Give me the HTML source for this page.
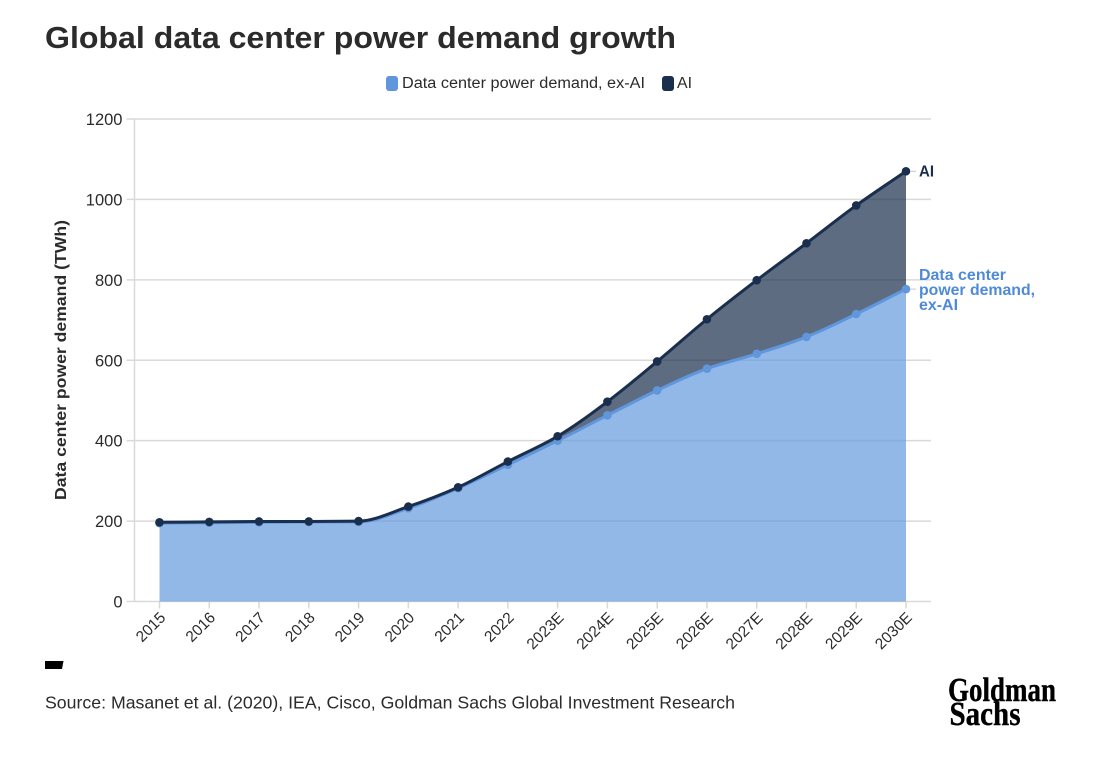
<!DOCTYPE html>
<html lang="en">
<head>
<meta charset="utf-8">
<title>Global data center power demand growth</title>
<style>
html,body{margin:0;padding:0;background:#fff;width:1100px;height:758px;overflow:hidden}
svg{display:block;font-family:"Liberation Sans",sans-serif}
</style>
</head>
<body>
<svg id="chart" xmlns="http://www.w3.org/2000/svg" width="1100" height="758" viewBox="0 0 1100 758">
  <rect width="1100" height="758" fill="#fff"/>
  <text x="45" y="48" font-size="31" font-weight="700" fill="#2b2b2b" textLength="631" lengthAdjust="spacingAndGlyphs">Global data center power demand growth</text>

  <g>
    <g>
      <rect x="386" y="76" width="12" height="15" rx="3" fill="#5f96dc"/>
      <text x="402" y="88" font-size="15.500" fill="#2b2b2b" textLength="243" lengthAdjust="spacingAndGlyphs">Data center power demand, ex-AI</text>
    </g>
    <g>
      <rect x="662" y="76" width="12" height="15" rx="3" fill="#1a2e4d"/>
      <text x="677" y="88" font-size="15.500" fill="#2b2b2b" textLength="15" lengthAdjust="spacingAndGlyphs">AI</text>
    </g>
  </g>

  <g id="grid"></g>
  <g id="yaxis"></g>
  <g id="xaxis"></g>
  <g id="series"></g>

  <text transform="translate(66,360) rotate(-90)" text-anchor="middle" font-size="15.500" font-weight="700" fill="#2b2b2b" textLength="280" lengthAdjust="spacingAndGlyphs">Data center power demand (TWh)</text>

  <g>
    <text x="919" y="176.500" font-size="15.500" font-weight="700" fill="#1a2e4d" textLength="15" lengthAdjust="spacingAndGlyphs">AI</text>
    <g font-size="15.500" font-weight="700" fill="#4f8ad9">
      <text x="919" y="280" textLength="87" lengthAdjust="spacingAndGlyphs">Data center</text>
      <text x="919" y="295" textLength="116" lengthAdjust="spacingAndGlyphs">power demand,</text>
      <text x="919" y="310" textLength="39" lengthAdjust="spacingAndGlyphs">ex-AI</text>
    </g>
  </g>

  <path d="M45 661H63.500L62 669H45Z" fill="#000"/>
  <text x="45" y="708.500" font-size="17.500" fill="#2b2b2b" textLength="690" lengthAdjust="spacingAndGlyphs">Source: Masanet et al. (2020), IEA, Cisco, Goldman Sachs Global Investment Research</text>

  <g style="font-family:'Liberation Serif',serif" font-weight="700" fill="#000" stroke="#000" stroke-width="0.4">
    <text x="948" y="701" font-size="34" textLength="108" lengthAdjust="spacingAndGlyphs">Goldman</text>
    <text x="949.500" y="725" font-size="34" textLength="71" lengthAdjust="spacingAndGlyphs">Sachs</text>
  </g>
</svg>
<script>
const categories = ["2015","2016","2017","2018","2019","2020","2021","2022","2023E","2024E","2025E","2026E","2027E","2028E","2029E","2030E"];
const exAiValues = [195,196,197,198,198,232,282,340,400,463,525,579,616,658,715,777];
const aiValues = [2,2,2,1,2,4,2,8,11,34,72,123,183,233,270,293];
const yTicks = [0,200,400,600,800,1000,1200];

const NS = 'http://www.w3.org/2000/svg';
const plot = {left:134.5, right:931, top:119, bottom:601.5, firstX:159.5, lastX:906, yMax:1200};
function xAt(i){ return plot.firstX + i * (plot.lastX - plot.firstX) / (categories.length - 1); }
function yAt(v){ return plot.bottom - v * (plot.bottom - plot.top) / plot.yMax; }
function make(tag, attrs, parent){
  const el = document.createElementNS(NS, tag);
  for (const k in attrs) el.setAttribute(k, attrs[k]);
  parent.appendChild(el);
  return el;
}
function monotone(pts){
  const n = pts.length, d = [], m = [];
  for (let i = 0; i < n - 1; i++) d.push((pts[i+1][1] - pts[i][1]) / (pts[i+1][0] - pts[i][0]));
  m.push(d[0]);
  for (let i = 1; i < n - 1; i++) m.push(d[i-1] * d[i] <= 0 ? 0 : 2 * d[i-1] * d[i] / (d[i-1] + d[i]));
  m.push(d[n-2]);
  let s = 'M' + pts[0][0] + ' ' + pts[0][1];
  for (let i = 0; i < n - 1; i++){
    const h = (pts[i+1][0] - pts[i][0]) / 3;
    s += 'C' + (pts[i][0] + h) + ' ' + (pts[i][1] + m[i] * h) + ' ' + (pts[i+1][0] - h) + ' ' + (pts[i+1][1] - m[i+1] * h) + ' ' + pts[i+1][0] + ' ' + pts[i+1][1];
  }
  return s;
}
const grid = document.getElementById('grid');
const yaxis = document.getElementById('yaxis');
const xaxis = document.getElementById('xaxis');
const series = document.getElementById('series');

yTicks.forEach(function(t){
  const line = make('line', {x1:plot.left - 8, x2:plot.right, y1:yAt(t), y2:yAt(t), stroke:'#d9d9d9', 'stroke-width':1.5}, grid);
  
  
  const label = make('text', {x:plot.left - 12, y:yAt(t) + 6, 'text-anchor':'end', 'font-size':16.5, fill:'#2b2b2b'}, yaxis);
  
  
  label.textContent = t;
});
const yLine = make('line', {x1:plot.left, x2:plot.left, y1:plot.top, y2:plot.bottom, stroke:'#d9d9d9', 'stroke-width':1.5}, yaxis);



categories.forEach(function(c, i){
  const x = xAt(i);
  const tick = make('line', {x1:x, x2:x, y1:plot.bottom, y2:plot.bottom + 7, stroke:'#d9d9d9', 'stroke-width':1.5}, xaxis);
  
  
  const label = make('text', {transform:'translate(' + (x + 7) + ',' + (plot.bottom + 17) + ') rotate(-45)', 'text-anchor':'end', 'font-size':15.5, fill:'#2b2b2b'}, xaxis);
  
  
  label.textContent = c;
});

const totals = exAiValues.map(function(v, i){ return v + aiValues[i]; });
const lowPts = exAiValues.map(function(v, i){ return [xAt(i), yAt(v)]; });
const topPts = totals.map(function(v, i){ return [xAt(i), yAt(v)]; });
const lowLine = monotone(lowPts);
const topLine = monotone(topPts);
const revLow = monotone(lowPts.slice().reverse());

const aiArea = make('path', {d:topLine + 'L' + revLow.slice(1) + 'Z', fill:'#1a2e4d', 'fill-opacity':0.7}, series);


const exArea = make('path', {d:lowLine + 'L' + xAt(categories.length - 1) + ' ' + yAt(0) + 'L' + xAt(0) + ' ' + yAt(0) + 'Z', fill:'#5f96dc', 'fill-opacity':0.68}, series);



const exLine = make('path', {d:lowLine, fill:'none', stroke:'#5f96dc', 'stroke-width':3}, series);


lowPts.forEach(function(p){
  const dot = make('circle', {cx:p[0], cy:p[1], r:4.3, fill:'#5f96dc'}, series);
  
  
});
const aiLine = make('path', {d:topLine, fill:'none', stroke:'#1a2e4d', 'stroke-width':3}, series);


topPts.forEach(function(p){
  const dot = make('circle', {cx:p[0], cy:p[1], r:4.3, fill:'#1a2e4d'}, series);
  
  
});
const lastIndex = categories.length - 1;
const leaderAi = make('line', {x1:xAt(lastIndex) + 4, x2:xAt(lastIndex) + 10, y1:yAt(totals[lastIndex]), y2:yAt(totals[lastIndex]), stroke:'#c8c8c8', 'stroke-width':1}, series);


const leaderEx = make('line', {x1:xAt(lastIndex) + 4, x2:xAt(lastIndex) + 10, y1:yAt(exAiValues[lastIndex]), y2:yAt(exAiValues[lastIndex]), stroke:'#c8c8c8', 'stroke-width':1}, series);


</script>
</body>
</html>
